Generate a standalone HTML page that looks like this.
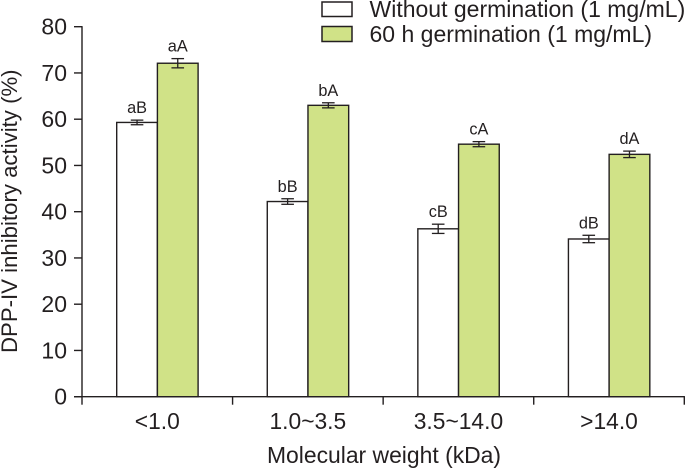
<!DOCTYPE html>
<html lang="en">
<head>
<meta charset="utf-8">
<title>DPP-IV inhibitory activity by molecular weight</title>
<style>
html,body{margin:0;padding:0;background:#fff;}
svg{display:block;font-family:"Liberation Sans",Arial,sans-serif;fill:#231f20;}
</style>
</head>
<body>
<svg id="chart" width="687" height="469" viewBox="0 0 687 469" xmlns="http://www.w3.org/2000/svg">
  <rect width="687" height="469" fill="#fff"/>
  <g>
    <rect x="322" y="2" width="30" height="14.5" fill="#fff" stroke="#231f20" stroke-width="1.5"/>
    <text x="369.5" y="17" font-size="23">Without germination (1 mg/mL)</text>
    <rect x="322" y="26.5" width="30" height="15" fill="#d0e287" stroke="#231f20" stroke-width="1.5"/>
    <text x="369.5" y="42" font-size="23">60 h germination (1 mg/mL)</text>
  </g>
  <text transform="translate(17 353) rotate(-90)" font-size="22.2">DPP-IV inhibitory activity (%)</text>
  <text x="384" y="463" text-anchor="middle" font-size="22.9">Molecular weight (kDa)</text>
</svg>
<script>
const categories = ["<1.0", "1.0~3.5", "3.5~14.0", ">14.0"];
const withoutGermination = [59.3, 42.2, 36.3, 34.1];
const withGermination = [72.1, 63.0, 54.6, 52.4];
const withoutErrors = [0.5, 0.6, 1.0, 0.8];
const withErrors = [1.0, 0.55, 0.55, 0.7];
const withoutLabels = ["aB", "bB", "cB", "dB"];
const withLabels = ["aA", "bA", "cA", "dA"];
const yTicks = [0, 10, 20, 30, 40, 50, 60, 70, 80];

const NS = "http://www.w3.org/2000/svg";
const svg = document.getElementById("chart");
const plot = {left: 82, right: 684.3, top: 26.7, bottom: 396.7, yMax: 80};
const ink = "#231f20";
const bandWidth = (plot.right - plot.left) / categories.length;
const barWidth = 40.7;
const barOffset = 34.7;

function yScale(v) {
  return plot.bottom - (v / plot.yMax) * (plot.bottom - plot.top);
}
function xBand(i) {
  return plot.left + i * bandWidth;
}
function make(tag, attrs, text) {
  const el = document.createElementNS(NS, tag);
  for (const k in attrs) el.setAttribute(k, attrs[k]);
  if (text !== undefined) el.textContent = text;
  svg.appendChild(el);
  return el;
}
function line(x1, y1, x2, y2, w) {
  return make("line", {x1: x1, y1: y1, x2: x2, y2: y2, stroke: ink, "stroke-width": w});
}

function drawBar(i, slot, value, err, label, fill, key) {
  const x = xBand(i) + barOffset + slot * barWidth;
  const top = yScale(value);
  const bar = make("rect", {x: x, y: top, width: barWidth, height: plot.bottom - top, fill: fill, stroke: ink, "stroke-width": 1.4});
  
  
  const cx = x + barWidth / 2;
  const hi = yScale(value + err);
  const lo = yScale(value - err);
  const stem = line(cx, hi, cx, lo, 1.3);
  
  
  const capHigh = line(cx - 6.3, hi, cx + 6.3, hi, 1.3);
  
  
  const capLow = line(cx - 6.3, lo, cx + 6.3, lo, 1.3);
  
  
  const t = make("text", {x: cx, y: hi - 7, "text-anchor": "middle", "font-size": 16.3}, label);
  
  
}

categories.forEach(function (c, i) {
  drawBar(i, 0, withoutGermination[i], withoutErrors[i], withoutLabels[i], "#fff", "without-germination");
  drawBar(i, 1, withGermination[i], withErrors[i], withLabels[i], "#d0e287", "60h-germination");
  const label = make("text", {x: xBand(i) + bandWidth / 2, y: 429, "text-anchor": "middle", "font-size": 22.8}, c);
  
  
});

const yAxis = line(plot.left, plot.top - 0.6, plot.left, plot.bottom, 1.4);


const xAxis = line(plot.left - 8, plot.bottom, plot.right + 0.6, plot.bottom, 1.4);



yTicks.forEach(function (v) {
  const y = yScale(v);
  const tick = line(plot.left - 8, y, plot.left, y, 1.4);
  
  
  const label = make("text", {x: 67, y: y + 8, "text-anchor": "end", "font-size": 23}, String(v));
  
  
});

for (let i = 0; i <= categories.length; i++) {
  const x = xBand(i);
  const tick = line(x, plot.bottom, x, plot.bottom + 8, 1.4);
  
  
}
</script>
</body>
</html>
